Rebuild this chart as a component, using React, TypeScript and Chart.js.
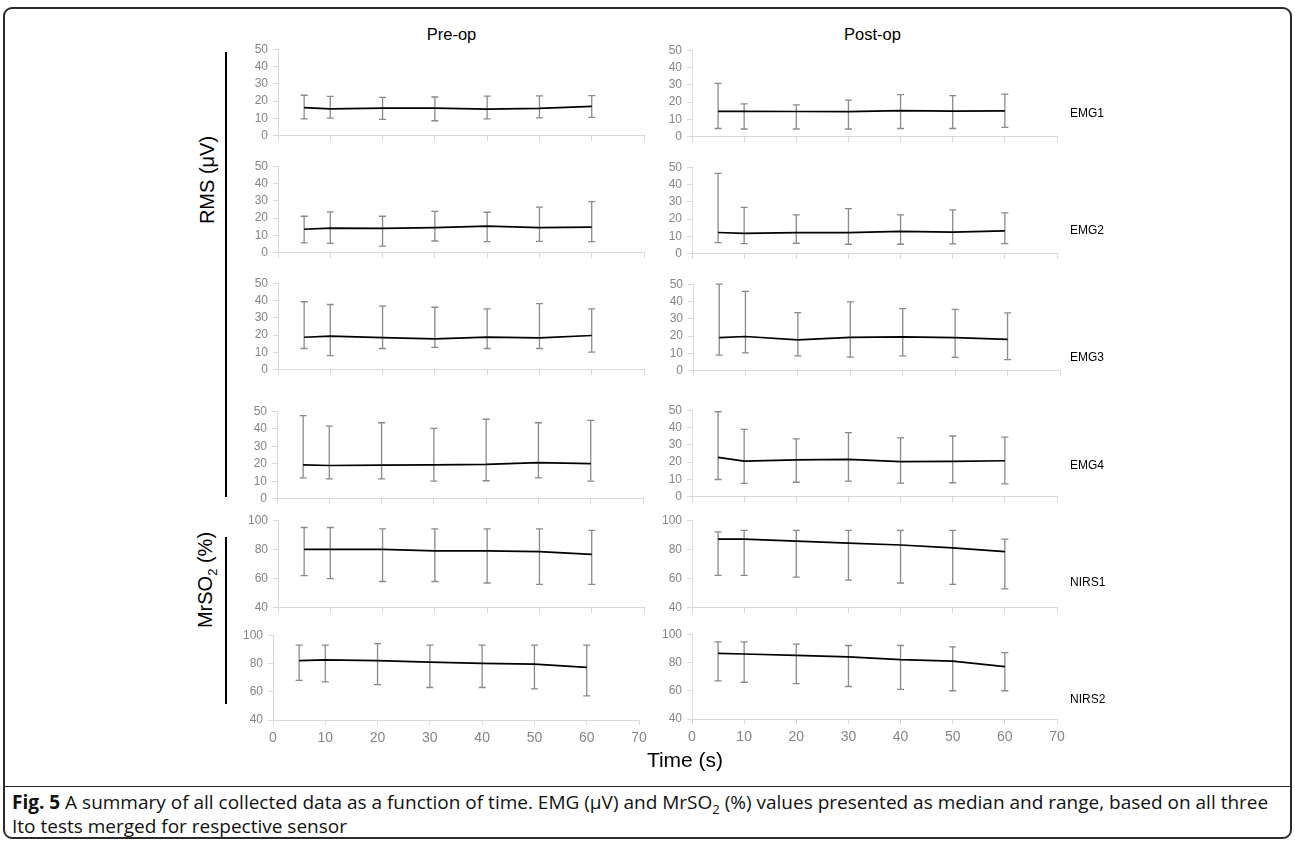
import React, { useEffect, useRef } from "react";
import { Chart, registerables } from "chart.js";
Chart.register(...registerables);

// ---------- data ----------
const timePoints = [5, 10, 20, 30, 40, 50, 60];
const xTickValues = [0, 10, 20, 30, 40, 50, 60, 70];
const columnTitles = ["Pre-op", "Post-op"];
const sensorLabels = ["EMG1", "EMG2", "EMG3", "EMG4", "NIRS1", "NIRS2"];

const emg1PreMedian = [16.3, 15.6, 16.0, 16.0, 15.4, 15.8, 17.0];
const emg1PreLow = [9.8, 10.2, 9.5, 8.7, 9.8, 10.4, 10.6];
const emg1PreHigh = [23.4, 22.8, 22.2, 22.4, 22.9, 23.0, 23.2];
const emg1PostMedian = [14.7, 14.7, 14.6, 14.5, 15.1, 14.8, 15.0];
const emg1PostLow = [4.8, 4.5, 4.5, 4.5, 4.8, 4.8, 5.4];
const emg1PostHigh = [30.8, 19.0, 18.4, 21.2, 24.4, 23.8, 24.6];

const emg2PreMedian = [13.6, 14.3, 14.1, 14.5, 15.4, 14.5, 14.8];
const emg2PreLow = [5.7, 5.4, 3.9, 6.8, 6.4, 6.6, 6.4];
const emg2PreHigh = [21.1, 23.6, 21.1, 23.9, 23.4, 26.4, 29.5];
const emg2PostMedian = [12.3, 11.8, 12.2, 12.2, 13.0, 12.5, 13.2];
const emg2PostLow = [6.4, 5.9, 6.1, 5.5, 5.5, 5.7, 5.9];
const emg2PostHigh = [46.4, 26.8, 22.5, 26.1, 22.5, 25.4, 23.6];

const emg3PreMedian = [18.8, 19.5, 18.6, 17.9, 18.9, 18.4, 19.8];
const emg3PreLow = [12.3, 8.2, 12.3, 12.9, 12.3, 12.3, 10.2];
const emg3PreHigh = [39.3, 37.7, 36.8, 36.1, 35.2, 38.2, 35.2];
const emg3PostMedian = [19.1, 19.8, 17.9, 19.3, 19.6, 19.1, 18.2];
const emg3PostLow = [9.1, 10.4, 8.6, 7.9, 8.6, 7.7, 6.4];
const emg3PostHigh = [50, 45.9, 33.6, 39.8, 35.9, 35.5, 33.4];

const emg4PreMedian = [19.4, 19.0, 19.2, 19.4, 19.6, 20.6, 20.1];
const emg4PreLow = [11.9, 11.4, 11.4, 10.1, 10.3, 11.9, 10.1];
const emg4PreHigh = [47.5, 41.5, 43.4, 40.2, 45.4, 43.4, 44.8];
const emg4PostMedian = [22.8, 20.6, 21.3, 21.6, 20.3, 20.5, 20.8];
const emg4PostLow = [10.0, 7.7, 8.4, 9.1, 7.9, 8.1, 7.5];
const emg4PostHigh = [49.1, 38.9, 33.5, 37.1, 34.0, 35.1, 34.4];

const nirs1PreMedian = [80, 80, 80, 79, 79, 78.5, 76.6];
const nirs1PreLow = [62, 60, 58, 58, 57, 56, 56];
const nirs1PreHigh = [95, 95, 94, 94, 94, 94, 93];
const nirs1PostMedian = [87, 87, 85.6, 84.3, 83, 81, 78.5];
const nirs1PostLow = [62.2, 62.2, 61, 59, 57, 56, 53];
const nirs1PostHigh = [92, 93, 93, 93, 93, 93, 87];

const nirs2PreMedian = [82, 82.6, 82, 81, 80, 79.5, 77.2];
const nirs2PreLow = [68, 67, 65, 63, 63, 62, 57];
const nirs2PreHigh = [93, 93, 94, 93, 93, 93, 93];
const nirs2PostMedian = [86.5, 86, 85, 84, 82, 81, 77];
const nirs2PostLow = [67, 66, 65, 63, 61, 60, 60];
const nirs2PostHigh = [94.5, 94.5, 93, 92, 92, 91, 87];

const emgRange = [0, 50, 10];
const nirsRange = [40, 100, 20];

// ---------- plugin ----------
const errorBarPlugin = {
  id: "errorBars",
  beforeDatasetsDraw(chart: any) {
    const { ctx, scales } = chart;
    const x = scales.x;
    const y = scales.y;
    chart.data.datasets.forEach((ds: any) => {
      ctx.save();
      ctx.strokeStyle = "#8a8a8a";
      ctx.lineWidth = 1.3;
      ds.data.forEach((p: any, i: number) => {
        const px = x.getPixelForValue(p.x);
        const yl = y.getPixelForValue(ds.errLow[i]);
        const yh = y.getPixelForValue(ds.errHigh[i]);
        ctx.beginPath();
        ctx.moveTo(px, yl);
        ctx.lineTo(px, yh);
        ctx.moveTo(px - 3.5, yl);
        ctx.lineTo(px + 3.5, yl);
        ctx.moveTo(px - 3.5, yh);
        ctx.lineTo(px + 3.5, yh);
        ctx.stroke();
      });
      ctx.restore();
    });
  },
};

type Geo = { left: number; right: number; top: number; bottom: number };

function Panel(props: {
  g: Geo;
  median: number[];
  low: number[];
  high: number[];
  range: number[];
  showXLabels: boolean;
}) {
  const { g, median, low, high, range, showXLabels } = props;
  const ref = useRef<HTMLCanvasElement>(null);
  const YW = 50;
  const PT = 10;
  const PR = 16;
  const XH = showXLabels ? 34 : 8;
  const plotW = Math.round(g.right - g.left);
  const plotH = Math.round(g.bottom - g.top);
  const cl = Math.round(g.left) - YW;
  const ct = Math.round(g.top) - PT;
  const cw = YW + plotW + PR;
  const ch = PT + plotH + XH;

  useEffect(() => {
    const chart = new Chart(ref.current as HTMLCanvasElement, {
      type: "line",
      data: {
        datasets: [
          {
            data: timePoints.map((t, i) => ({ x: t, y: median[i] })),
            borderColor: "#000000",
            borderWidth: 1.7,
            pointRadius: 0,
            tension: 0,
            errLow: low,
            errHigh: high,
          } as any,
        ],
      },
      options: {
        responsive: false,
        maintainAspectRatio: false,
        animation: false,
        layout: { padding: { top: PT, right: PR, left: 0, bottom: 0 } },
        plugins: { legend: { display: false }, tooltip: { enabled: false } },
        scales: {
          x: {
            type: "linear",
            min: 0,
            max: 70,
            afterBuildTicks: (s: any) => {
              s.ticks = xTickValues.map((v) => ({ value: v }));
            },
            afterFit: (s: any) => {
              s.height = XH;
            },
            grid: { drawOnChartArea: false, drawTicks: true, tickLength: 5, color: "#d9d9d9" },
            border: { color: "#d9d9d9", width: 1 },
            ticks: {
              display: showXLabels,
              color: "#858585",
              font: { family: "Liberation Sans", size: 14 },
              padding: 5,
              maxRotation: 0,
              autoSkip: false,
            },
          },
          y: {
            type: "linear",
            min: range[0],
            max: range[1],
            ticks: {
              stepSize: range[2],
              color: "#858585",
              font: { family: "Liberation Sans", size: 12 },
              padding: 5,
            },
            afterFit: (s: any) => {
              s.width = YW;
            },
            grid: { drawOnChartArea: false, drawTicks: true, tickLength: 5, color: "#d9d9d9" },
            border: { color: "#d9d9d9", width: 1 },
          },
        },
      } as any,
      plugins: [errorBarPlugin],
    });
    return () => chart.destroy();
  }, []);

  return (
    <canvas
      ref={ref}
      width={cw}
      height={ch}
      style={{ position: "absolute", left: cl, top: ct, width: cw, height: ch }}
    />
  );
}

const preGeo: Geo[] = [
  { left: 277.5, right: 643, top: 47, bottom: 140 },
  { left: 277.5, right: 643, top: 164, bottom: 257 },
  { left: 277.5, right: 643, top: 281, bottom: 374 },
  { left: 277, right: 642.5, top: 409, bottom: 502.7 },
  { left: 277.5, right: 643, top: 518.3, bottom: 612.7 },
  { left: 273, right: 639, top: 632.7, bottom: 719.3 },
];
const postGeo: Geo[] = [
  { left: 692, right: 1057, top: 47.7, bottom: 140.7 },
  { left: 692, right: 1057, top: 165.3, bottom: 258.7 },
  { left: 692.5, right: 1059, top: 282, bottom: 375.3 },
  { left: 692, right: 1057, top: 408, bottom: 501 },
  { left: 692, right: 1057, top: 518.3, bottom: 612.7 },
  { left: 692, right: 1057, top: 631.7, bottom: 719 },
];

const preSeries = [
  [emg1PreMedian, emg1PreLow, emg1PreHigh],
  [emg2PreMedian, emg2PreLow, emg2PreHigh],
  [emg3PreMedian, emg3PreLow, emg3PreHigh],
  [emg4PreMedian, emg4PreLow, emg4PreHigh],
  [nirs1PreMedian, nirs1PreLow, nirs1PreHigh],
  [nirs2PreMedian, nirs2PreLow, nirs2PreHigh],
];
const postSeries = [
  [emg1PostMedian, emg1PostLow, emg1PostHigh],
  [emg2PostMedian, emg2PostLow, emg2PostHigh],
  [emg3PostMedian, emg3PostLow, emg3PostHigh],
  [emg4PostMedian, emg4PostLow, emg4PostHigh],
  [nirs1PostMedian, nirs1PostLow, nirs1PostHigh],
  [nirs2PostMedian, nirs2PostLow, nirs2PostHigh],
];
const sensorLabelY = [113, 230, 357, 465, 582, 699];

const sans = "'Liberation Sans', Arial, sans-serif";

export default function App() {
  const abs = (extra: React.CSSProperties): React.CSSProperties => ({
    position: "absolute",
    ...extra,
  });
  return (
    <div
      style={{
        position: "absolute",
        left: 0,
        top: 0,
        width: 1295,
        height: 843,
        background: "#ffffff",
        overflow: "hidden",
        fontFamily: sans,
      }}
    >
      {/* frame */}
      <div
        style={abs({
          left: 3,
          top: 7,
          width: 1285,
          height: 828,
          border: "2px solid #2a2a2a",
          borderRadius: 9,
        })}
      />
      <div style={abs({ left: 3, top: 786, width: 1289, height: 0, borderTop: "1.5px solid #2a2a2a" })} />

      {/* column titles */}
      <div style={abs({ left: 451.5, top: 34, transform: "translate(-50%,-50%)", fontSize: 16.5, color: "#000", whiteSpace: "nowrap" })}>
        {columnTitles[0]}
      </div>
      <div style={abs({ left: 872.5, top: 34, transform: "translate(-50%,-50%)", fontSize: 16.5, color: "#000", whiteSpace: "nowrap" })}>
        {columnTitles[1]}
      </div>

      {/* left group labels */}
      <div style={abs({ left: 207, top: 180, transform: "translate(-50%,-50%) rotate(-90deg)", fontSize: 20, whiteSpace: "nowrap", color: "#000" })}>
        RMS (μV)
      </div>
      <div style={abs({ left: 225, top: 52, width: 1.5, height: 445, background: "#000" })} />
      <div style={abs({ left: 207, top: 580, transform: "translate(-50%,-50%) rotate(-90deg)", fontSize: 20, whiteSpace: "nowrap", color: "#000" })}>
        MrSO<sub style={{ fontSize: 13 }}>2</sub> (%)
      </div>
      <div style={abs({ left: 225, top: 537, width: 1.5, height: 167, background: "#000" })} />

      {/* panels */}
      {preGeo.map((g, i) => (
        <Panel
          key={"pre" + i}
          g={g}
          median={preSeries[i][0]}
          low={preSeries[i][1]}
          high={preSeries[i][2]}
          range={i < 4 ? emgRange : nirsRange}
          showXLabels={i === 5}
        />
      ))}
      {postGeo.map((g, i) => (
        <Panel
          key={"post" + i}
          g={g}
          median={postSeries[i][0]}
          low={postSeries[i][1]}
          high={postSeries[i][2]}
          range={i < 4 ? emgRange : nirsRange}
          showXLabels={i === 5}
        />
      ))}

      {/* sensor labels */}
      {sensorLabels.map((s, i) => (
        <div key={s} style={abs({ left: 1070, top: sensorLabelY[i], transform: "translateY(-50%)", fontSize: 12, color: "#000", whiteSpace: "nowrap" })}>
          {s}
        </div>
      ))}

      {/* x title */}
      <div style={abs({ left: 685, top: 760, transform: "translate(-50%,-50%)", fontSize: 21, color: "#000", whiteSpace: "nowrap" })}>
        Time (s)
      </div>

      {/* caption */}
      <div style={abs({ left: 12, top: 790, fontFamily: "'Open Sans', sans-serif", fontSize: 19, lineHeight: "24px", color: "#111", whiteSpace: "nowrap" })}>
        <div>
          <b>Fig. 5</b> A summary of all collected data as a function of time. EMG (μV) and MrSO
          <sub style={{ fontSize: 13, lineHeight: 0 }}>2</sub> (%) values presented as median and range, based on all three
        </div>
        <div>Ito tests merged for respective sensor</div>
      </div>
    </div>
  );
}
